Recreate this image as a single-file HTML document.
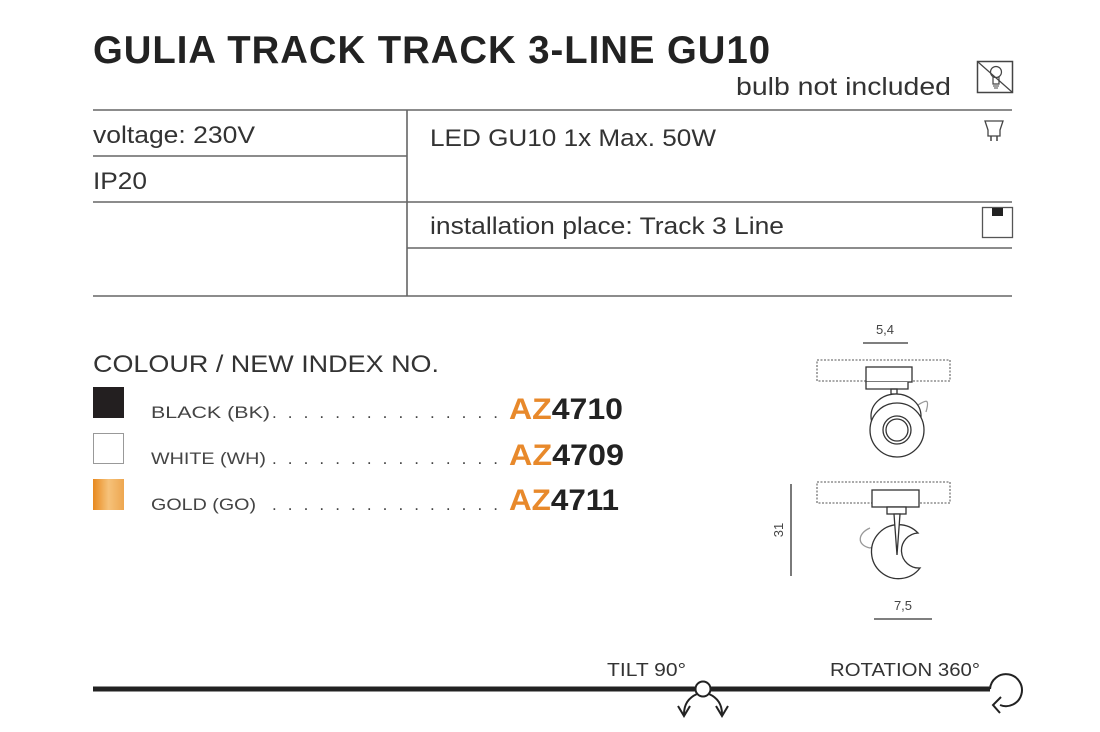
<!DOCTYPE html>
<html><head><meta charset="utf-8"><style>
html,body{margin:0;padding:0;background:#fff}
svg{display:block}
text{font-family:"Liberation Sans",sans-serif}
</style></head><body>
<svg width="1100" height="732" viewBox="0 0 1100 732" xmlns="http://www.w3.org/2000/svg">
<text x="93" y="63" font-size="39" font-weight="bold" fill="#222" textLength="678" lengthAdjust="spacingAndGlyphs" letter-spacing="1">GULIA TRACK TRACK 3-LINE GU10</text>
<text x="736" y="95" font-size="25" fill="#333" textLength="215" lengthAdjust="spacingAndGlyphs">bulb not included</text>
<!-- bulb icon -->
<rect x="977.5" y="61.5" width="35" height="31" fill="none" stroke="#444" stroke-width="1.5"/>
<line x1="978" y1="62" x2="1012" y2="92" stroke="#444" stroke-width="1.2"/>
<circle cx="996" cy="72" r="5.5" fill="none" stroke="#444" stroke-width="1.2"/>
<path d="M993 77 L993 84 L999 84 L999 77" fill="none" stroke="#444" stroke-width="1.2"/>
<line x1="993" y1="86" x2="999" y2="86" stroke="#444"/><line x1="994" y1="88" x2="998" y2="88" stroke="#444"/>
<!-- table -->
<g stroke="#666" stroke-width="1.6" fill="none">
<line x1="93" y1="110" x2="1012" y2="110"/>
<line x1="93" y1="156" x2="407" y2="156"/>
<line x1="93" y1="202" x2="1012" y2="202"/>
<line x1="407" y1="248" x2="1012" y2="248"/>
<line x1="93" y1="296" x2="1012" y2="296"/>
<line x1="407" y1="110" x2="407" y2="296"/>
</g>
<text x="93" y="143" font-size="24" fill="#333" textLength="162" lengthAdjust="spacingAndGlyphs">voltage: 230V</text>
<text x="93" y="189" font-size="24" fill="#333" textLength="54" lengthAdjust="spacingAndGlyphs">IP20</text>
<text x="430" y="146" font-size="24" fill="#333" textLength="286" lengthAdjust="spacingAndGlyphs">LED GU10 1x Max. 50W</text>
<text x="430" y="234" font-size="24" fill="#333" textLength="354" lengthAdjust="spacingAndGlyphs">installation place: Track 3 Line</text>
<!-- gu10 icon -->
<path d="M985 121 L1003 121 L1000 130 L1000 136 L988 136 L988 130 Z" fill="none" stroke="#444" stroke-width="1.3"/>
<line x1="991" y1="136" x2="991" y2="141" stroke="#444" stroke-width="1.5"/><line x1="997" y1="136" x2="997" y2="141" stroke="#444" stroke-width="1.5"/>
<!-- install icon -->
<rect x="982.5" y="207.5" width="30" height="30" fill="none" stroke="#555" stroke-width="1.3"/>
<rect x="992" y="208" width="11" height="8" fill="#222"/>
<!-- colours -->
<text x="93" y="372" font-size="24" fill="#333" textLength="346" lengthAdjust="spacingAndGlyphs">COLOUR / NEW INDEX NO.</text>
<rect x="93" y="387" width="31" height="31" fill="#231f20"/>
<rect x="93.5" y="433.5" width="30" height="30" fill="#fff" stroke="#999"/>
<defs><linearGradient id="g" x1="0" x2="1"><stop offset="0" stop-color="#e8891e"/><stop offset="0.5" stop-color="#f6c27a"/><stop offset="1" stop-color="#eda650"/></linearGradient></defs>
<rect x="93" y="479" width="31" height="31" fill="url(#g)"/>
<g font-size="17" fill="#444">
<text x="151" y="418" textLength="119" lengthAdjust="spacingAndGlyphs">BLACK (BK)</text>
<text x="151" y="464" textLength="115" lengthAdjust="spacingAndGlyphs">WHITE (WH)</text>
<text x="151" y="510" textLength="105" lengthAdjust="spacingAndGlyphs">GOLD (GO)</text>
<text x="272" y="418" textLength="226" lengthAdjust="spacing">...............</text>
<text x="272" y="464" textLength="226" lengthAdjust="spacing">...............</text>
<text x="272" y="510" textLength="226" lengthAdjust="spacing">...............</text>
</g>
<g font-size="30" font-weight="bold">
<text x="509" y="419" textLength="114" lengthAdjust="spacingAndGlyphs"><tspan fill="#e8892b">AZ</tspan><tspan fill="#222">4710</tspan></text>
<text x="509" y="465" textLength="115" lengthAdjust="spacingAndGlyphs"><tspan fill="#e8892b">AZ</tspan><tspan fill="#222">4709</tspan></text>
<text x="509" y="510" textLength="110" lengthAdjust="spacingAndGlyphs"><tspan fill="#e8892b">AZ</tspan><tspan fill="#222">4711</tspan></text>
</g>
<!-- drawings -->
<g fill="none" stroke="#333" stroke-width="1.3">
<text x="885" y="334" font-size="13" fill="#444" stroke="none" text-anchor="middle">5,4</text>
<line x1="863" y1="343" x2="908" y2="343"/>
<rect x="817" y="360" width="133" height="21" stroke="#777" stroke-dasharray="2,1.5"/>
<rect x="866" y="367" width="46" height="15" fill="#fff"/>
<path d="M866 382 L866 389 L908 389 L908 382" fill="#fff"/>
<rect x="891" y="389" width="6" height="5"/>
<path d="M918 405 C926 400 930 398 926 412" stroke="#999"/>
<ellipse cx="896" cy="416" rx="25" ry="22" fill="#fff"/>
<circle cx="897" cy="430" r="27" fill="#fff"/>
<circle cx="897" cy="430" r="14"/><circle cx="897" cy="430" r="11"/>
<rect x="817" y="482" width="133" height="21" stroke="#777" stroke-dasharray="2,1.5"/>
<rect x="872" y="490" width="47" height="17" fill="#fff"/>
<rect x="887" y="507" width="19" height="7" fill="#fff"/>
<path d="M870 528 C858 533 856 545 870 548 L878 545" stroke="#999"/>
<path d="M918 533 A27 27 0 1 0 920 568 A14 14 0 0 1 918 533 Z" fill="#fff"/>
<path d="M894 514 L897 555 L900 514 Z" fill="#fff"/>
<line x1="791" y1="484" x2="791" y2="576"/>
<text x="783" y="530" font-size="13" fill="#444" stroke="none" text-anchor="middle" transform="rotate(-90 783 530)">31</text>
<text x="903" y="610" font-size="13" fill="#444" stroke="none" text-anchor="middle">7,5</text>
<line x1="874" y1="619" x2="932" y2="619"/>
</g>
<!-- bottom -->
<text x="607" y="676" font-size="18" fill="#333" textLength="79" lengthAdjust="spacingAndGlyphs">TILT 90°</text>
<text x="830" y="676" font-size="18" fill="#333" textLength="150" lengthAdjust="spacingAndGlyphs">ROTATION 360°</text>
<line x1="93" y1="689" x2="990" y2="689" stroke="#222" stroke-width="5"/>
<circle cx="703" cy="689" r="7.5" fill="#fff" stroke="#222" stroke-width="2"/>
<g fill="none" stroke="#222" stroke-width="2">
<path d="M697 694 C688 698 684 705 684 714"/><path d="M678 706 L684 716 L690 706"/>
<path d="M709 694 C718 698 722 705 722 714"/><path d="M716 706 L722 716 L728 706"/>
<path d="M990 689 A16 16 0 1 1 1000 705"/><path d="M1001 697 L993 705 L1000 713"/>
</g>
</svg>
</body></html>
